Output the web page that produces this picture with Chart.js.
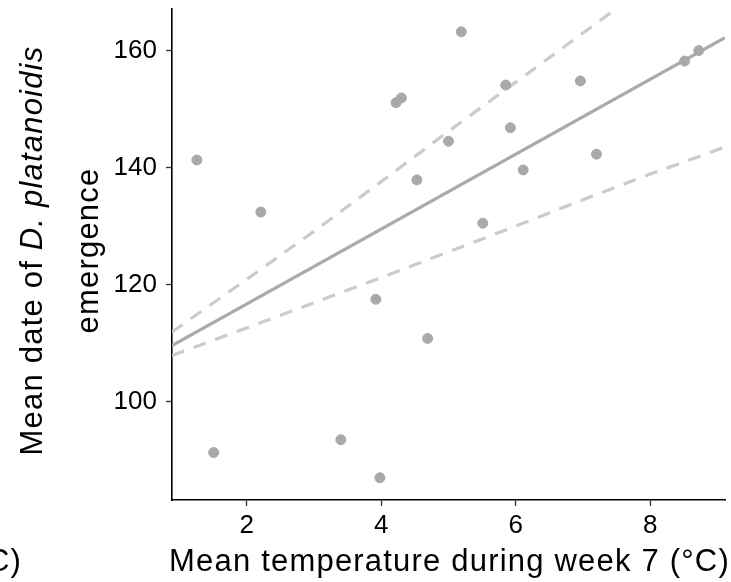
<!DOCTYPE html>
<html>
<head>
<meta charset="utf-8">
<script src="https://cdn.jsdelivr.net/npm/chart.js@4/dist/chart.umd.min.js"></script>
<style>
	html, body { margin: 0; padding: 0; background: #fff; }
	#wrap { width: 731px; height: 582px; }
</style>
</head>
<body>
<div id="wrap"><canvas id="emergenceChart" width="731" height="582"></canvas></div>
<script>
// 관측값 (주 7 평균기온 / 평균 출현일)
const tempX = [1.26, 1.51, 2.21, 3.40, 3.92, 3.98, 4.22, 4.30, 4.53, 4.69, 5.00, 5.19, 5.51, 5.85, 5.92, 6.11, 6.96, 7.20, 8.51, 8.72];
const emergeY = [141.3, 91.3, 132.4, 93.5, 117.5, 87.0, 151.1, 151.9, 137.9, 110.8, 144.5, 163.2, 130.5, 154.1, 146.8, 139.6, 154.8, 142.3, 158.2, 160.0];

// 회귀선
const fitX = [0.89, 9.11];
const fitY = [109.6, 162.2];

// 신뢰구간 (점선)
const ciX = [0.89, 2, 3, 4, 5, 6, 7, 7.5, 8];
const ciUpper = [111.9, 120.9, 129.1, 137.6, 146.2, 154.6, 163.0, 167.2, 171.3];
const ciLowX = [0.89, 2, 3, 4, 5, 6, 7, 8, 9.11];
const ciLower = [107.9, 112.6, 116.9, 121.2, 125.6, 130.0, 134.5, 138.9, 143.5];

const xTicks = [2, 4, 6, 8];
const yTicks = [100, 120, 140, 160];

const xTitle = 'Mean temperature during week 7 (°C)';
const yTitle1 = ['Mean date of ', 'D. platanoidis'];
const yTitle2 = 'emergence';
const cutLabel = 'C)';

const pts = (xs, ys) => xs.map((x, i) => ({ x: x, y: ys[i] }));

const FONT = '"Liberation Sans", Arial, sans-serif';
const TSIZE = '31px ';
const TSPACE = '1.2px';

// 축 제목 직접 그리기 (이탤릭 혼합)
const titlePlugin = {
	id: 'titles',
	afterDraw: (chart) => {
		const ctx = chart.ctx;
		const area = chart.chartArea;
		ctx.save();
		ctx.fillStyle = '#000';
		ctx.textBaseline = 'alphabetic';
		ctx.letterSpacing = TSPACE;
		ctx.font = TSIZE + FONT;
		ctx.textAlign = 'center';
		ctx.fillText(xTitle, (area.left + area.right) / 2 + 1, 571);
		ctx.textAlign = 'right';
		ctx.fillText(cutLabel, 22, 571);

		const cy = (area.top + area.bottom) / 2 - 4;
		// 첫째 줄
		ctx.save();
		ctx.translate(42, cy);
		ctx.rotate(-Math.PI / 2);
		ctx.textAlign = 'left';
		ctx.font = TSIZE + FONT;
		const w1 = ctx.measureText(yTitle1[0]).width;
		ctx.font = 'italic ' + TSIZE + FONT;
		const w2 = ctx.measureText(yTitle1[1]).width;
		let sx = -(w1 + w2) / 2;
		ctx.font = TSIZE + FONT;
		ctx.fillText(yTitle1[0], sx, 0);
		ctx.font = 'italic ' + TSIZE + FONT;
		ctx.fillText(yTitle1[1], sx + w1, 0);
		ctx.restore();
		// 둘째 줄
		ctx.save();
		ctx.translate(98, cy);
		ctx.rotate(-Math.PI / 2);
		ctx.textAlign = 'center';
		ctx.font = TSIZE + FONT;
		ctx.fillText(yTitle2, 0, 0);
		ctx.restore();
		ctx.restore();
	}
};

const noPad = (s) => { s.paddingTop = 0; s.paddingBottom = 0; s.paddingLeft = 0; s.paddingRight = 0; };

const ctx = document.getElementById('emergenceChart');
window.chart = new Chart(ctx, {
	type: 'scatter',
	data: {
		datasets: [
			{
				label: 'obs',
				data: pts(tempX, emergeY),
				backgroundColor: '#a9a9a9',
				borderColor: '#a9a9a9',
				pointRadius: 5,
				pointHoverRadius: 5,
				order: 0
			},
			{
				label: 'fit',
				data: pts(fitX, fitY),
				showLine: true,
				borderColor: '#aaaaaa',
				borderWidth: 3.2,
				pointRadius: 0,
				order: 1
			},
			{
				label: 'upper',
				data: pts(ciX, ciUpper),
				showLine: true,
				borderColor: '#cbcbcb',
				borderWidth: 3.2,
				borderDash: [13, 10],
				pointRadius: 0,
				order: 2
			},
			{
				label: 'lower',
				data: pts(ciLowX, ciLower),
				showLine: true,
				borderColor: '#cbcbcb',
				borderWidth: 3.2,
				borderDash: [13, 10],
				pointRadius: 0,
				order: 2
			}
		]
	},
	options: {
		responsive: false,
		animation: false,
		events: [],
		layout: { padding: { left: 0, right: 4, top: 9, bottom: 0 } },
		plugins: {
			legend: { display: false },
			tooltip: { enabled: false }
		},
		scales: {
			x: {
				type: 'linear',
				min: 0.89,
				max: 9.11,
				afterBuildTicks: (s) => { s.ticks = xTicks.map(v => ({ value: v })); },
				afterFit: (s) => { s.height = 82; noPad(s); },
				border: { display: true, color: '#000', width: 1.6 },
				grid: { display: true, drawOnChartArea: false, drawTicks: true, tickLength: 6, color: '#333', tickWidth: 1.3 },
				ticks: { color: '#000', padding: 4, font: { family: FONT, size: 26 } }
			},
			y: {
				type: 'linear',
				min: 83.2,
				max: 167.1,
				afterBuildTicks: (s) => { s.ticks = yTicks.map(v => ({ value: v })); },
				afterFit: (s) => { s.width = 172; noPad(s); },
				border: { display: true, color: '#000', width: 1.6 },
				grid: { display: true, drawOnChartArea: false, drawTicks: true, tickLength: 6, color: '#333', tickWidth: 1.3 },
				ticks: { color: '#000', padding: 9, font: { family: FONT, size: 26 } }
			}
		}
	},
	plugins: [titlePlugin]
});
</script>
</body>
</html>
